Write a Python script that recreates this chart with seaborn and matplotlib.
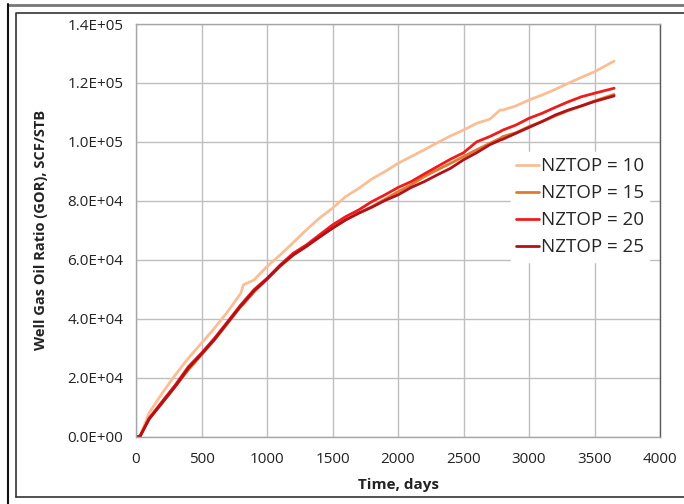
import matplotlib
matplotlib.use("Agg")
import matplotlib.pyplot as plt
import seaborn as sns
import pandas as pd
import numpy as np
from matplotlib.lines import Line2D
from matplotlib.ticker import FuncFormatter

time_days = [0, 30, 100, 200, 300, 400, 500, 600, 700, 800, 820, 900, 1000, 1100, 1200,
             1300, 1400, 1500, 1600, 1700, 1800, 1900, 2000, 2100, 2200, 2300, 2400,
             2500, 2600, 2700, 2780, 2800, 2900, 3000, 3100, 3200, 3300, 3400, 3500, 3650]

gor_nztop10 = [0, 0, 8000, 14700, 20900, 26600, 31700, 36800, 42400, 48600, 51500, 53100,
               57700, 61600, 65800, 70100, 74100, 77500, 81400, 84200, 87400, 89900, 92700,
               95000, 97300, 99700, 102000, 104000, 106300, 107700, 110800, 110800, 112200,
               114200, 115900, 117800, 119900, 121900, 123800, 127400]
gor_nztop15 = [0, 0, 5900, 11300, 17000, 22600, 27700, 32800, 38400, 44100, 44900, 49000,
               53400, 57700, 61600, 64500, 67900, 70700, 73500, 75800, 78000, 80500, 83100,
               85400, 88200, 90500, 92700, 95000, 97300, 99500, 101200, 101800, 103100,
               105200, 106900, 108800, 110600, 112200, 113900, 116100]
gor_nztop20 = [0, 0, 6200, 11900, 17500, 23700, 28300, 33400, 39000, 44700, 45700, 49800,
               53700, 58200, 62200, 65000, 68400, 71800, 74600, 76900, 79700, 82000, 84500,
               86500, 89100, 91600, 94100, 96300, 100000, 101800, 103500, 104000, 105700,
               108000, 109700, 111700, 113600, 115300, 116500, 118200]
gor_nztop25 = [0, 0, 5900, 11500, 17000, 23200, 28000, 33000, 38700, 44300, 45300, 49400,
               53400, 57900, 61600, 64500, 67600, 70700, 73500, 75800, 77800, 80100, 82000,
               84500, 86500, 88800, 91000, 93900, 96300, 99000, 100600, 100900, 102900,
               104900, 106900, 109100, 110800, 112200, 113700, 115600]

series_labels = ["NZTOP = 10", "NZTOP = 15", "NZTOP = 20", "NZTOP = 25"]
series_colors = ["#F9BE96", "#E07A2C", "#EE1C1C", "#B0121B"]
x_ticks = [0, 500, 1000, 1500, 2000, 2500, 3000, 3500, 4000]
y_ticks = [0, 20000, 40000, 60000, 80000, 100000, 120000, 140000]

rows = []
for lab, vals in zip(series_labels, [gor_nztop10, gor_nztop15, gor_nztop20, gor_nztop25]):
    for t, v in zip(time_days, vals):
        rows.append({"Time": t, "GOR": v, "Case": lab})
df = pd.DataFrame(rows)

sns.set_style("white")
plt.rcParams['font.family'] = ['Open Sans', 'DejaVu Sans']

fig = plt.figure(figsize=(6.84, 5.04), dpi=100)
ax = fig.add_axes([136/684, 1-436.5/504, (660-136)/684, (436.5-24)/504])

sns.lineplot(data=df, x="Time", y="GOR", hue="Case", palette=dict(zip(series_labels, series_colors)),
             hue_order=series_labels, linewidth=2.0, ax=ax, legend=False)

ax.set_xlim(0, 4000)
ax.set_ylim(0, 140000)
ax.set_xticks(x_ticks)
ax.set_yticks(y_ticks)
ax.yaxis.set_major_formatter(FuncFormatter(lambda v, p: "%.1E" % v))
ax.grid(True, color="#BFBFBF", linewidth=1.0)
ax.set_axisbelow(True)
for s in ["left", "bottom", "top"]:
    ax.spines[s].set_color("#A6A6A6")
    ax.spines[s].set_linewidth(1.0)
ax.spines["right"].set_color("#595959")
ax.spines["right"].set_linewidth(1.0)
ax.tick_params(axis="both", which="major", direction="out", length=5, width=1,
               color="#A6A6A6", labelsize=11, labelcolor="#222222", pad=4)
ax.tick_params(axis="x", pad=6)

ax.set_xlabel("Time, days", fontsize=11, fontweight="bold", labelpad=8, color="#222222")
ax.set_ylabel("Well Gas Oil Ratio (GOR), SCF/STB", fontsize=10.5, fontweight="bold",
              labelpad=14, color="#222222")

handles = [Line2D([0], [0], color=c, linewidth=2.0) for c in series_colors]
leg = ax.legend(handles, series_labels, loc="upper left", bbox_to_anchor=(0.697, 0.713),
                frameon=True, fontsize=13.5, handlelength=1.2, handletextpad=0.1,
                labelspacing=0.48, borderpad=0.3, fancybox=False)
leg.get_frame().set_edgecolor("white")
leg.get_frame().set_facecolor("white")
leg.get_frame().set_alpha(1.0)

# outer frame lines
W, H = 684.0, 504.0
fig.add_artist(Line2D([8/W, 684/W], [1-4.5/H, 1-4.5/H], color="#777777", linewidth=2.0))
fig.add_artist(Line2D([8/W, 8/W], [0, 1-4/H], color="#111111", linewidth=1.5))
fig.add_artist(Line2D([16/W, 16/W, 684/W], [1-497/H, 1-13/H, 1-13/H], color="#333333", linewidth=1.2))
fig.add_artist(Line2D([16/W, 684/W], [1-497/H, 1-497/H], color="#333333", linewidth=1.2))

fig.savefig("out.png", dpi=100)
